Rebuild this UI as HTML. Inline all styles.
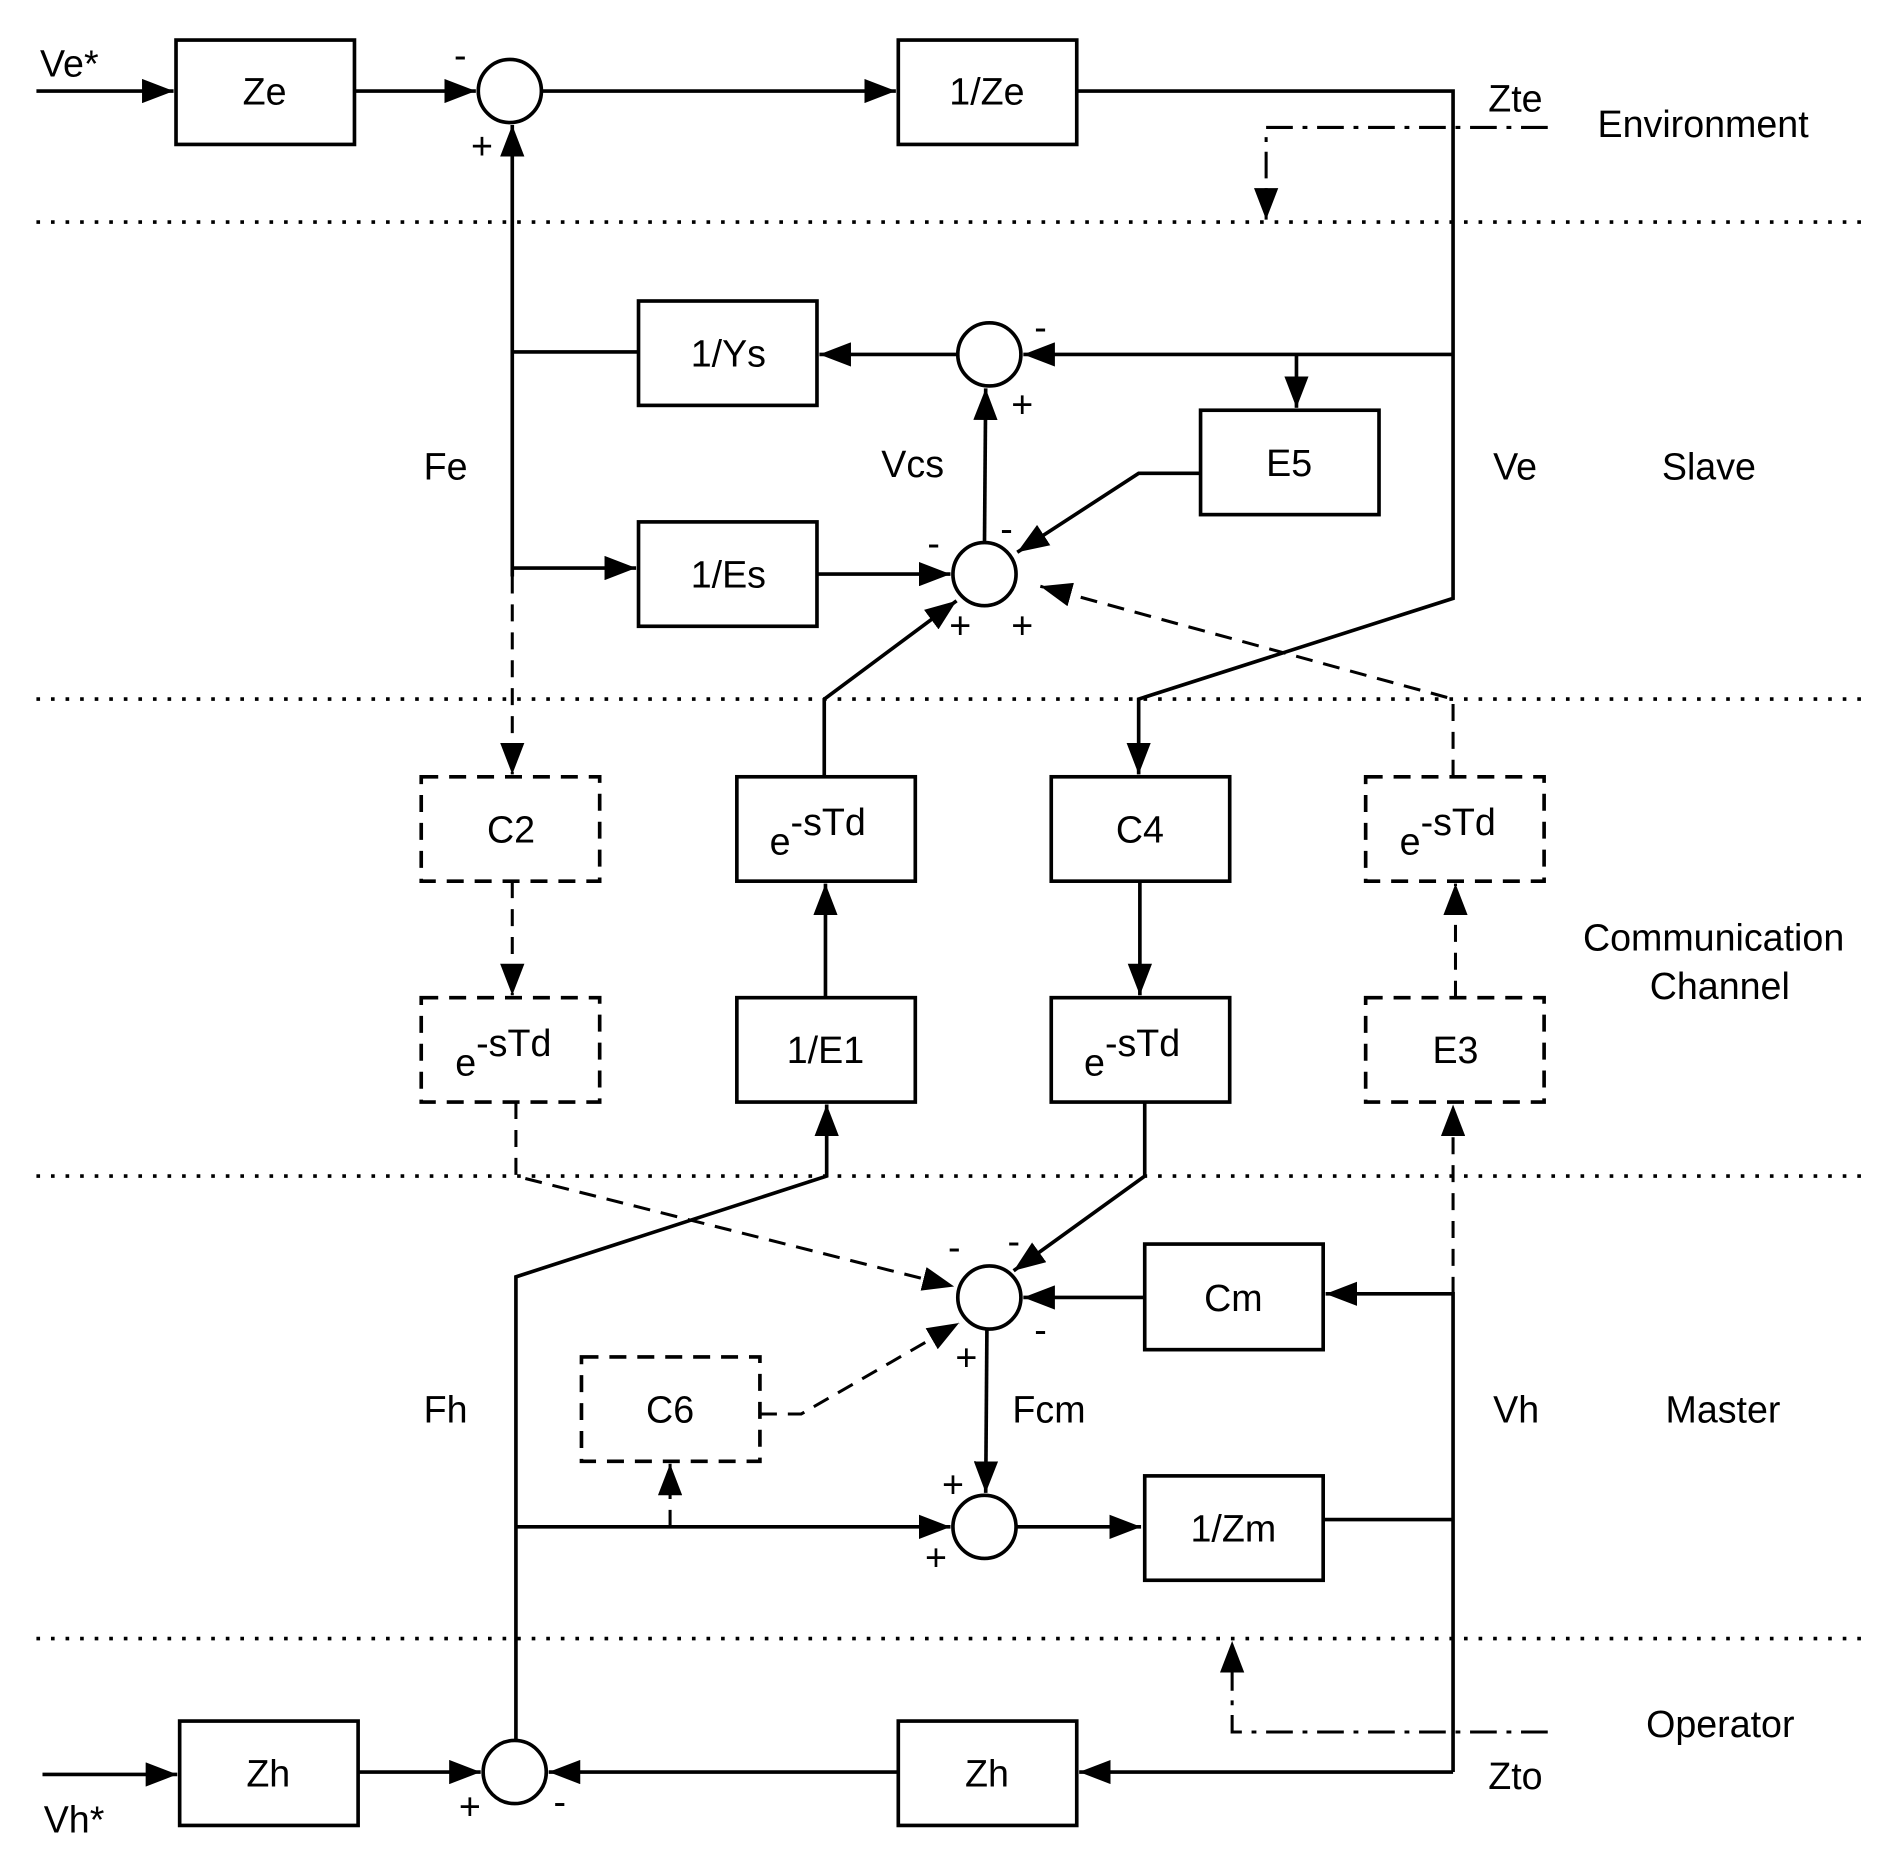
<!DOCTYPE html>
<html><head><meta charset="utf-8"><style>
html,body{margin:0;padding:0;background:#fff;}
svg{display:block;}
text{font-family:"Liberation Sans",Arial,sans-serif;font-size:31px;fill:#000;}
</style></head><body>
<svg width="1901" height="1857" viewBox="0 0 1566 1530" preserveAspectRatio="none" xmlns="http://www.w3.org/2000/svg">
<defs>
<marker id="b" markerWidth="26" markerHeight="20" refX="26" refY="10" orient="auto" markerUnits="userSpaceOnUse" viewBox="0 0 26 20">
<path d="M0,0 L26,10 L0,20 z" fill="#000"/></marker>
</defs>
<g stroke="#000" stroke-width="3" fill="none">
<g stroke-dasharray="3,9" stroke-width="3">
<line x1="30" y1="183" x2="1540" y2="183"/>
<line x1="30" y1="576" x2="1540" y2="576"/>
<line x1="30" y1="969" x2="1540" y2="969"/>
<line x1="30" y1="1350" x2="1540" y2="1350"/>
</g>
<rect x="145" y="33" width="147" height="86"/>
<rect x="740" y="33" width="147" height="86"/>
<rect x="526" y="248" width="147" height="86"/>
<rect x="989" y="338" width="147" height="86"/>
<rect x="526" y="430" width="147" height="86"/>
<rect x="607" y="640" width="147" height="86"/>
<rect x="866" y="640" width="147" height="86"/>
<rect x="607" y="822" width="147" height="86"/>
<rect x="866" y="822" width="147" height="86"/>
<rect x="943" y="1025" width="147" height="87"/>
<rect x="943" y="1216" width="147" height="86"/>
<rect x="148" y="1418" width="147" height="86"/>
<rect x="740" y="1418" width="147" height="86"/>
<g stroke-dasharray="14,9">
<rect x="347" y="640" width="147" height="86"/>
<rect x="347" y="822" width="147" height="86"/>
<rect x="1125" y="640" width="147" height="86"/>
<rect x="1125" y="822" width="147" height="86"/>
<rect x="479" y="1118" width="147" height="86"/>
</g>
<circle cx="420" cy="75" r="26"/>
<circle cx="815" cy="292" r="26"/>
<circle cx="811" cy="473" r="26"/>
<circle cx="815" cy="1069" r="26"/>
<circle cx="811" cy="1258" r="26"/>
<circle cx="424" cy="1460" r="26"/>
<line x1="30" y1="75" x2="143" y2="75" marker-end="url(#b)"/>
<line x1="292" y1="75" x2="392" y2="75" marker-end="url(#b)"/>
<line x1="446" y1="75" x2="738" y2="75" marker-end="url(#b)"/>
<polyline points="887,75 1197,75 1197,493 938,576 938,638" marker-end="url(#b)"/>
<line x1="422" y1="475" x2="422" y2="103" marker-end="url(#b)"/>
<line x1="526" y1="290" x2="422" y2="290"/>
<line x1="789" y1="292" x2="675" y2="292" marker-end="url(#b)"/>
<line x1="1197" y1="292" x2="843" y2="292" marker-end="url(#b)"/>
<polyline points="1068,292 1068,336" marker-end="url(#b)"/>
<polyline points="989,390 938,390 838,455" marker-end="url(#b)"/>
<line x1="811" y1="447" x2="812" y2="320" marker-end="url(#b)"/>
<line x1="422" y1="468" x2="524" y2="468" marker-end="url(#b)"/>
<line x1="673" y1="473" x2="783" y2="473" marker-end="url(#b)"/>
<polyline points="679,640 679,576 788,495" marker-end="url(#b)"/>
<line x1="680" y1="822" x2="680" y2="728" marker-end="url(#b)"/>
<line x1="939" y1="726" x2="939" y2="820" marker-end="url(#b)"/>
<polyline points="425,1434 425,1052 681,969 681,910" marker-end="url(#b)"/>
<polyline points="943,908 943,969 835,1047" marker-end="url(#b)"/>
<line x1="943" y1="1069" x2="843" y2="1069" marker-end="url(#b)"/>
<polyline points="1197,1460 1197,1066 1092,1066" marker-end="url(#b)"/>
<line x1="813" y1="1095" x2="812" y2="1230" marker-end="url(#b)"/>
<line x1="425" y1="1258" x2="783" y2="1258" marker-end="url(#b)"/>
<line x1="837" y1="1258" x2="940" y2="1258" marker-end="url(#b)"/>
<line x1="1090" y1="1252" x2="1197" y2="1252"/>
<line x1="35" y1="1462" x2="146" y2="1462" marker-end="url(#b)"/>
<line x1="295" y1="1460" x2="396" y2="1460" marker-end="url(#b)"/>
<line x1="1197" y1="1460" x2="889" y2="1460" marker-end="url(#b)"/>
<line x1="740" y1="1460" x2="452" y2="1460" marker-end="url(#b)"/>
<g stroke-dasharray="14,9" stroke-width="2.5">
<line x1="422" y1="475" x2="422" y2="638" marker-end="url(#b)"/>
<line x1="422" y1="726" x2="422" y2="820" marker-end="url(#b)"/>
<polyline points="1197,640 1197,576 857,483" marker-end="url(#b)"/>
<line x1="1199" y1="822" x2="1199" y2="728" marker-end="url(#b)"/>
<polyline points="425,908 425,969 786,1060" marker-end="url(#b)"/>
<line x1="1197" y1="1066" x2="1197" y2="910" marker-end="url(#b)"/>
<line x1="552" y1="1258" x2="552" y2="1206" marker-end="url(#b)"/>
<polyline points="626,1165 660,1165 790,1090" marker-end="url(#b)"/>
</g>
<g stroke-dasharray="22,8,4,8" stroke-width="2.5">
<polyline points="1275,105 1043,105 1043,181" marker-end="url(#b)"/>
<polyline points="1275,1427 1015,1427 1015,1352" marker-end="url(#b)"/>
</g>
</g>
<g text-anchor="middle">
<text x="218" y="86">Ze</text>
<text x="813" y="86">1/Ze</text>
<text x="600" y="302">1/Ys</text>
<text x="1062" y="392">E5</text>
<text x="600" y="484">1/Es</text>
<text x="421" y="694">C2</text>
<text x="939" y="694">C4</text>
<text x="680" y="876">1/E1</text>
<text x="1199" y="876">E3</text>
<text x="1016" y="1080">Cm</text>
<text x="1016" y="1270">1/Zm</text>
<text x="552" y="1172">C6</text>
<text x="221" y="1472">Zh</text>
<text x="813" y="1472">Zh</text>
</g>
<g>
<text x="634" y="704">e<tspan dy="-16">-sTd</tspan></text>
<text x="1153" y="704">e<tspan dy="-16">-sTd</tspan></text>
<text x="375" y="886">e<tspan dy="-16">-sTd</tspan></text>
<text x="893" y="886">e<tspan dy="-16">-sTd</tspan></text>
</g>
<text x="33" y="63">Ve*</text>
<text x="36" y="1510">Vh*</text>
<text x="1226" y="92">Zte</text>
<text x="1226" y="1474">Zto</text>
<text x="1316" y="113">Environment</text>
<text x="349" y="395">Fe</text>
<text x="726" y="393">Vcs</text>
<text x="1230" y="395">Ve</text>
<text x="1369" y="395">Slave</text>
<text x="1304" y="783">Communication</text>
<text x="1359" y="823">Channel</text>
<text x="349" y="1172">Fh</text>
<text x="834" y="1172">Fcm</text>
<text x="1230" y="1172">Vh</text>
<text x="1372" y="1172">Master</text>
<text x="1356" y="1431">Operator</text>
<g style="font-size:28px">
<text x="374" y="56">-</text>
<text x="388" y="131">+</text>
<text x="852" y="280">-</text>
<text x="833" y="344">+</text>
<text x="764" y="458">-</text>
<text x="824" y="446">-</text>
<text x="782" y="526">+</text>
<text x="833" y="526">+</text>
<text x="781" y="1038">-</text>
<text x="830" y="1033">-</text>
<text x="852" y="1106">-</text>
<text x="787" y="1129">+</text>
<text x="776" y="1234">+</text>
<text x="762" y="1294">+</text>
<text x="378" y="1499">+</text>
<text x="456" y="1495">-</text>
</g>
</svg>
</body></html>
